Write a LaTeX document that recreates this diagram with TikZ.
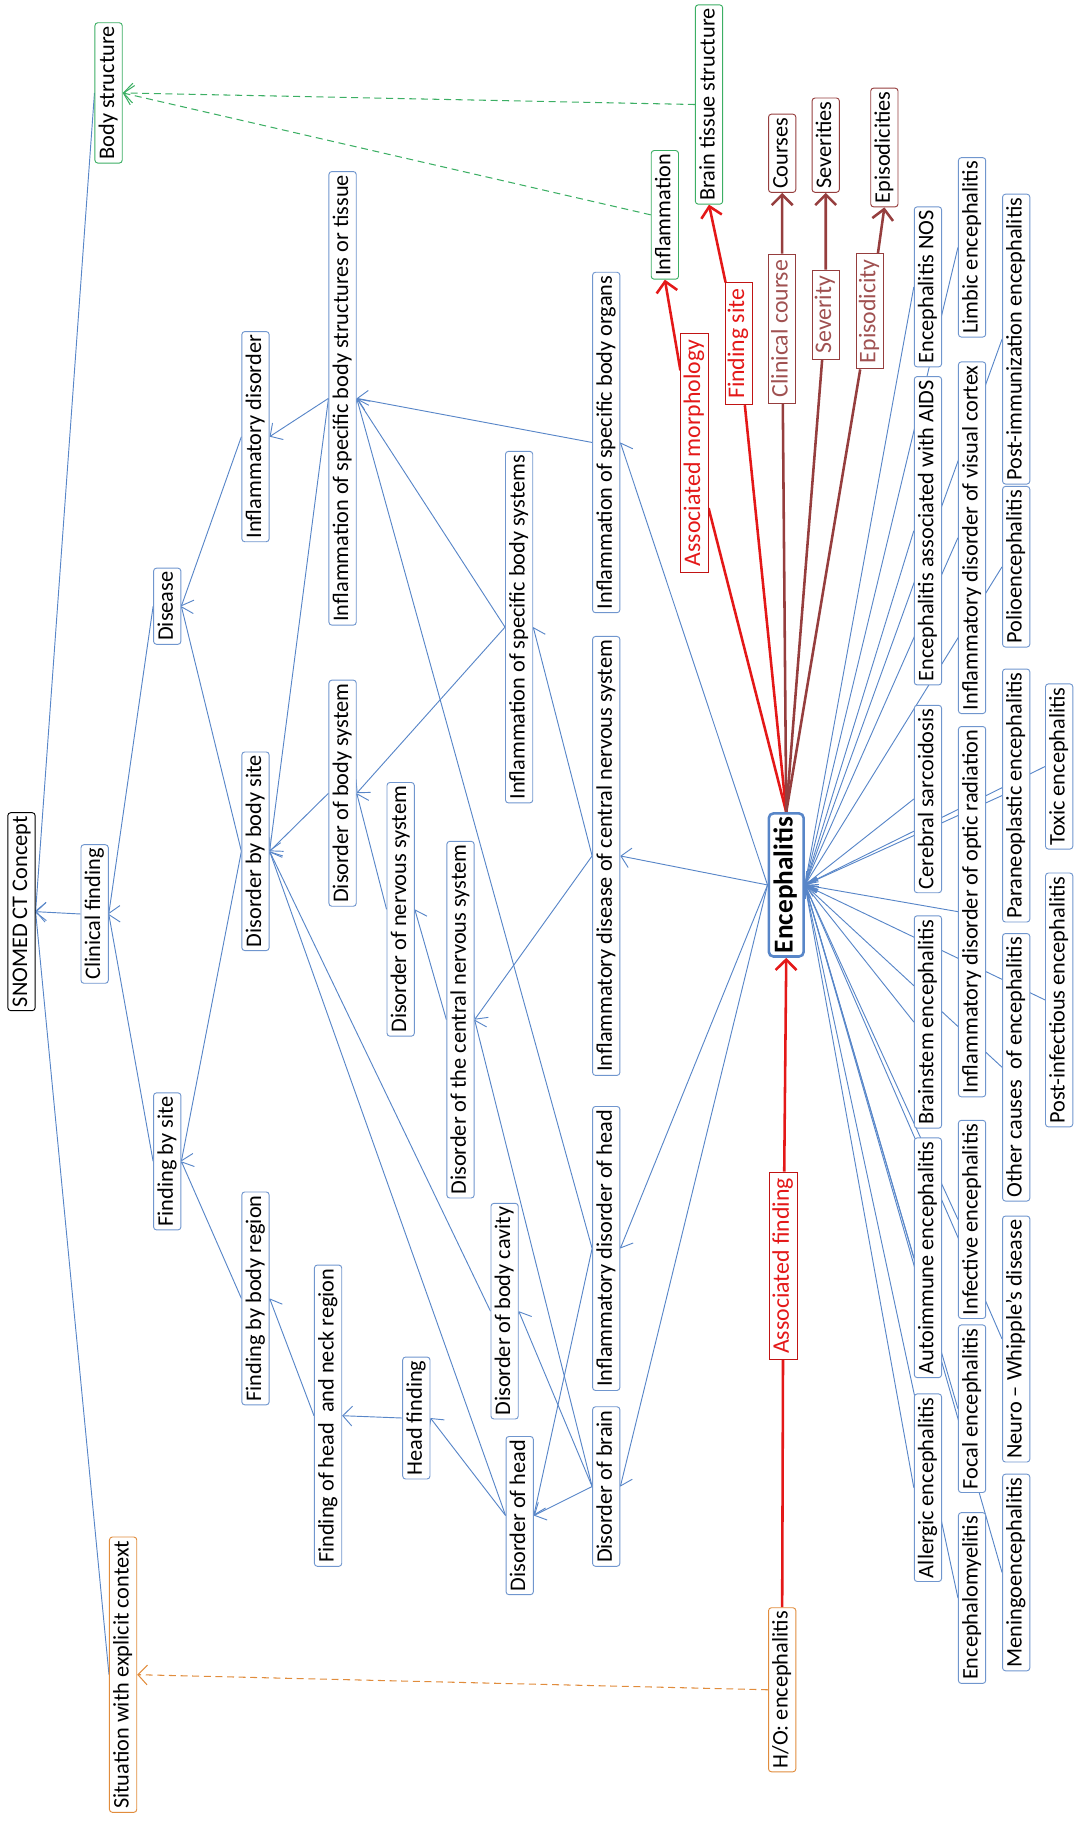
\documentclass[tikz,border=0pt]{standalone}
\usepackage{fontspec}
\setmainfont{Carlito}
\usetikzlibrary{arrows.meta}
\definecolor{isablue}{RGB}{88,134,200}
\definecolor{boxblue}{RGB}{112,150,206}
\definecolor{attrgreen}{RGB}{60,175,100}
\definecolor{ctxorange}{RGB}{225,140,60}
\definecolor{relred}{RGB}{228,24,24}
\definecolor{relbrown}{RGB}{150,62,62}
\pgfdeclarelayer{links}
\pgfsetlayers{links,main}
\newcommand{\concept}[4]{\node[#1] (#2) at (#3) {#4};}

\begin{document}
\begin{tikzpicture}[
      x=1pt, y=-1pt,
      every node/.style={rotate=90, rectangle, rounded corners=2.5pt, draw=boxblue, fill=white, line width=0.8pt,
        inner xsep=3pt, inner ysep=0pt, minimum height=23.5pt, text height=13.5pt, text depth=4pt,
        font=\fontsize{19.2}{21}\selectfont},
      term/.style={},
      root/.style={draw=black},
      body/.style={draw=attrgreen},
      ctx/.style={draw=ctxorange},
      qual/.style={draw=relbrown},
      focus/.style={draw=isablue, line width=2.2pt, rounded corners=4pt, minimum height=30pt,
        text height=16pt, text depth=5pt, font=\fontsize{23.5}{25}\selectfont\bfseries},
      redlabel/.style={sharp corners, draw=relred!85!black, text=relred, inner xsep=5pt, font=\fontsize{20.5}{22}\selectfont},
      brownlabel/.style={sharp corners, draw=relbrown, text=relbrown!90!white, inner xsep=5pt, font=\fontsize{20.5}{22}\selectfont},
      isa/.style={draw=isablue, line width=0.8pt, -{Straight Barb[length=8pt,width=17pt]}},
      rel/.style={draw=relred, line width=2.2pt, -{Straight Barb[length=9pt,width=18pt]}},
      qrel/.style={draw=relbrown, line width=2.2pt, -{Straight Barb[length=9pt,width=18pt]}},
      bodylink/.style={draw=attrgreen, line width=0.9pt, dash pattern=on 6pt off 4pt, -{Straight Barb[length=8pt,width=17pt]}},
      ctxlink/.style={draw=ctxorange, line width=0.9pt, dash pattern=on 6pt off 4pt, -{Straight Barb[length=8pt,width=17pt]}}
      ]
      \useasboundingbox (0,0) rectangle (931,1568);

      % top of hierarchy
      \concept{root}{snomed}{18.5,785}{SNOMED CT Concept}
      \concept{body}{bodystr}{93.5,80}{Body structure}
      \concept{ctx}{situation}{106,1442}{Situation with explicit context}
      \concept{term}{clinfind}{81.5,787}{Clinical finding}
      \concept{term}{disease}{144,522}{Disease}
      \concept{term}{findsite}{144,1000}{Finding by site}
      \concept{term}{inflamdis}{220,376}{Inflammatory disorder}
      \concept{term}{disbodysite}{220,733}{Disorder by body site}
      \concept{term}{findregion}{220,1118}{Finding by body region}
      \concept{term}{findheadneck}{282.5,1219}{Finding of head\ \ and neck region}
      \concept{term}{headfind}{358.5,1221}{Head finding}
      \concept{term}{inflamstruct}{295,343}{Inflammation of specific body structures or tissue}
      \concept{term}{disbodysys}{295,683}{Disorder of body system}
      \concept{term}{disnerv}{345,783}{Disorder of nervous system}
      \concept{term}{discns}{396.5,878}{Disorder of the central nervous system}
      \concept{term}{inflamsys}{447,540}{Inflammation of specific body systems}
      \concept{term}{discavity}{434.5,1129}{Disorder of body cavity}
      \concept{term}{dishead}{447.5,1305}{Disorder of head}
      \concept{term}{inflamorg}{522,381}{Inflammation of specific body organs}
      \concept{term}{inflamcns}{522,737}{Inflammatory disease of central nervous system}
      \concept{term}{inflamhead}{522,1075}{Inflammatory disorder of head}
      \concept{term}{disbrain}{522,1280}{Disorder of brain}

      % attribute values
      \concept{body}{inflammation}{572.5,185}{Inflammation}
      \concept{body}{braintissue}{610.5,90}{Brain tissue structure}
      \concept{qual}{courses}{673.5,132}{Courses}
      \concept{qual}{severities}{711,125}{Severities}
      \concept{qual}{episodicities}{761.5,127}{Episodicities}

      % focus concept
      \concept{focus}{enceph}{677,762}{Encephalitis}
      \concept{ctx}{hoenceph}{673.5,1455}{H/O: encephalitis}

      % relation labels
      \concept{redlabel}{lblassocfind}{674.5,1090}{Associated finding}
      \concept{redlabel}{lblassocmorph}{598,390}{Associated morphology}
      \concept{redlabel}{lblfindsite}{636,296}{Finding site}
      \concept{brownlabel}{lblclincourse}{673.5,283}{Clinical course}
      \concept{brownlabel}{lblseverity}{711,271}{Severity}
      \concept{brownlabel}{lblepisod}{749,268}{Episodicity}

      % subtypes of encephalitis
      \concept{term}{encnos}{799,247}{Encephalitis NOS}
      \concept{term}{limbic}{837,213}{Limbic encephalitis}
      \concept{term}{postimm}{875,292}{Post-immunization encephalitis}
      \concept{term}{aids}{799,457}{Encephalitis associated with AIDS}
      \concept{term}{viscortex}{837,463}{Inflammatory disorder of visual cortex}
      \concept{term}{polio}{875,488}{Polioencephalitis}
      \concept{term}{sarcoid}{799,688}{Cerebral sarcoidosis}
      \concept{term}{opticrad}{837,785}{Inflammatory disorder of optic radiation}
      \concept{term}{paraneo}{875,685}{Paraneoplastic encephalitis}
      \concept{term}{toxic}{912,660}{Toxic encephalitis}
      \concept{term}{brainstem}{799,880}{Brainstem encephalitis}
      \concept{term}{othercauses}{875,919}{Other causes\ \ of encephalitis}
      \concept{term}{postinf}{912,861}{Post-infectious encephalitis}
      \concept{term}{autoimm}{799,1083}{Autoimmune encephalitis}
      \concept{term}{infective}{837,1050}{Infective encephalitis}
      \concept{term}{whipple}{875,1153}{Neuro – Whipple’s disease}
      \concept{term}{allergic}{799,1281}{Allergic encephalitis}
      \concept{term}{focal}{837,1213}{Focal encephalitis}
      \concept{term}{meningo}{875,1354}{Meningoencephalitis}
      \concept{term}{encmyel}{837,1376}{Encephalomyelitis}

      \begin{pgfonlayer}{links}
        % is-a links
        \path(clinfind.north) edge [isa] (snomed.south);
        \path(bodystr.north) edge [isa] (snomed.south);
        \path(situation.north) edge [isa] (snomed.south);
        \path(disease.north) edge [isa] (clinfind.south);
        \path(findsite.north) edge [isa] (clinfind.south);
        \path(inflamdis.north) edge [isa] (disease.south);
        \path(disbodysite.north) edge [isa] (disease.south) edge [isa] (findsite.south);
        \path(findregion.north) edge [isa] (findsite.south);
        \path(inflamstruct.north) edge [isa] (inflamdis.south) edge [isa] (disbodysite.south);
        \path(disbodysys.north) edge [isa] (disbodysite.south);
        \path(discavity.north) edge [isa] (disbodysite.south);
        \path(dishead.north) edge [isa] (disbodysite.south) edge [isa] (headfind.south);
        \path(findheadneck.north) edge [isa] (findregion.south);
        \path(headfind.north) edge [isa] (findheadneck.south);
        \path(inflamsys.north) edge [isa] (inflamstruct.south) edge [isa] (disbodysys.south);
        \path(disnerv.north) edge [isa] (disbodysys.south);
        \path(discns.north) edge [isa] (disnerv.south);
        \path(inflamorg.north) edge [isa] (inflamstruct.south);
        \path(inflamcns.north) edge [isa] (inflamsys.south) edge [isa] (discns.south);
        \path(inflamhead.north) edge [isa] (inflamstruct.south) edge [isa] (dishead.south);
        \path(disbrain.north) edge [isa] (dishead.south) edge [isa] (discavity.south) edge [isa] (discns.south);
        \path(enceph.north) edge [isa] (inflamorg.south) edge [isa] (inflamcns.south)
          edge [isa] (inflamhead.south) edge [isa] (disbrain.south);
        % children of encephalitis
        \path(encnos.north) edge [isa] (enceph.south);
        \path(limbic.north) edge [isa] (enceph.south);
        \path(postimm.north) edge [isa] (enceph.south);
        \path(aids.north) edge [isa] (enceph.south);
        \path(viscortex.north) edge [isa] (enceph.south);
        \path(polio.north) edge [isa] (enceph.south);
        \path(sarcoid.north) edge [isa] (enceph.south);
        \path(opticrad.north) edge [isa] (enceph.south);
        \path(paraneo.north) edge [isa] (enceph.south);
        \path(toxic.north) edge [isa] (enceph.south);
        \path(brainstem.north) edge [isa] (enceph.south);
        \path(othercauses.north) edge [isa] (enceph.south);
        \path(postinf.north) edge [isa] (enceph.south);
        \path(autoimm.north) edge [isa] (enceph.south);
        \path(infective.north) edge [isa] (enceph.south);
        \path(whipple.north) edge [isa] (enceph.south);
        \path(allergic.north) edge [isa] (enceph.south);
        \path(focal.north) edge [isa] (enceph.south);
        \path(meningo.north) edge [isa] (enceph.south);
        \path(encmyel.north) edge [isa] (enceph.south);
        % value hierarchy
        \path(inflammation.north) edge [bodylink] (bodystr.south);
        \path(braintissue.north) edge [bodylink] (bodystr.south);
        \path(hoenceph.north) edge [ctxlink] (situation.south);
        % attribute relations
        \draw[rel] (hoenceph.east) -- (lblassocfind) -- (enceph.west);
        \draw[rel] (enceph.east) -- (lblassocmorph) -- (inflammation.west);
        \draw[rel] (enceph.east) -- (lblfindsite) -- (braintissue.west);
        \draw[qrel] (enceph.east) -- (lblclincourse) -- (courses.west);
        \draw[qrel] (enceph.east) -- (lblseverity) -- (severities.west);
        \draw[qrel] (enceph.east) -- (lblepisod) -- (episodicities.west);
      \end{pgfonlayer}
    \end{tikzpicture}
\end{document}
